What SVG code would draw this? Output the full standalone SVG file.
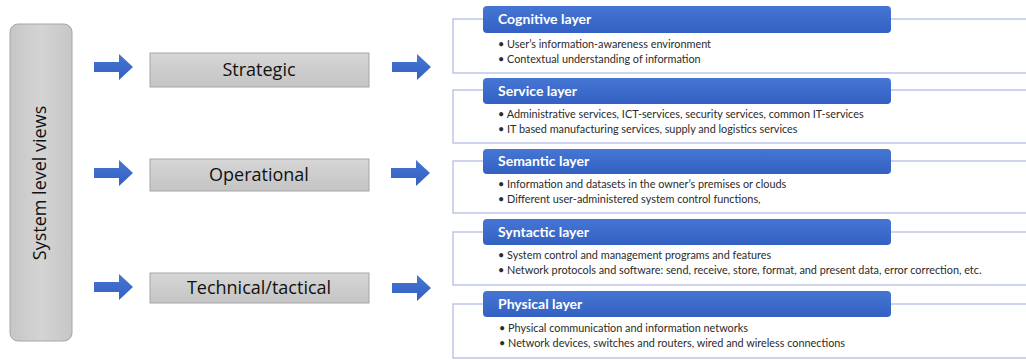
<svg xmlns="http://www.w3.org/2000/svg" width="1026" height="360" viewBox="0 0 1026 360">
<defs>
<linearGradient id="gray" x1="0" y1="0" x2="0" y2="1">
<stop offset="0" stop-color="#d6d6d6"/><stop offset="1" stop-color="#c4c4c4"/>
</linearGradient>
<linearGradient id="grayv" x1="0" y1="0" x2="1" y2="0">
<stop offset="0" stop-color="#c6c6c6"/><stop offset="0.5" stop-color="#d4d4d4"/><stop offset="1" stop-color="#c6c6c6"/>
</linearGradient>
<linearGradient id="blue" x1="0" y1="0" x2="0" y2="1">
<stop offset="0" stop-color="#4676d4"/><stop offset="1" stop-color="#3360c2"/>
</linearGradient>
<path id="arr" d="M0,-5 H25 V-13 L39,0 L25,13 V5 H0 Z"/>
</defs>
<style>
.view rect{fill:url(#gray);stroke:#a6a6a6;stroke-width:1}
.view text{font-family:"Open Sans","Liberation Sans",sans-serif;font-size:18px;fill:#111;text-anchor:middle}
.arrow use{fill:url(#blue)}
.box{fill:#fff;stroke:#b4bde6;stroke-width:1.3}
.hdr{fill:url(#blue)}
.ht{font-family:Lato,"Liberation Sans",sans-serif;font-weight:bold;font-size:14px;fill:#fff}
.bt{font-family:Lato,"Liberation Sans",sans-serif;font-size:10.85px;fill:#2b2b2b}
</style>
<rect width="1026" height="360" fill="#fff"/>

<g id="system-level-views" class="view">
<rect x="10" y="24" width="62" height="317" rx="8" style="fill:url(#grayv)"/>
<text transform="translate(46,183) rotate(-90)">System level views</text>
</g>

<g id="connectors" class="arrow">
<use href="#arr" x="94" y="67"/>
<use href="#arr" x="94" y="173"/>
<use href="#arr" x="94" y="287"/>
<use href="#arr" x="392" y="67"/>
<use href="#arr" x="391" y="173"/>
<use href="#arr" x="392" y="288"/>
</g>

<g id="strategic" class="view">
<rect x="150" y="53" width="219" height="34"/>
<text x="259" y="76">Strategic</text>
</g>
<g id="operational" class="view">
<rect x="150" y="159" width="219" height="32"/>
<text x="259" y="181">Operational</text>
</g>
<g id="technical" class="view">
<rect x="150" y="273" width="219" height="30"/>
<text x="259" y="294">Technical/tactical</text>
</g>

<g id="cognitive-layer">
<rect class="box" x="453" y="19" width="580" height="54"/>
<rect class="hdr" x="483" y="6" width="408" height="27" rx="4"/>
<text class="ht" x="498" y="24">Cognitive layer</text>
<text class="bt" x="498" y="48">• User’s information-awareness environment</text>
<text class="bt" x="498" y="63">• Contextual understanding of information</text>
</g>

<g id="service-layer">
<rect class="box" x="453" y="90" width="580" height="53"/>
<rect class="hdr" x="483" y="78" width="408" height="26" rx="4"/>
<text class="ht" x="498" y="96">Service layer</text>
<text class="bt" x="498" y="118">• Administrative services, ICT-services, security services, common IT-services</text>
<text class="bt" x="498" y="133">• IT based manufacturing services, supply and logistics services</text>
</g>

<g id="semantic-layer">
<rect class="box" x="453" y="161" width="580" height="52"/>
<rect class="hdr" x="483" y="149" width="408" height="25" rx="4"/>
<text class="ht" x="498" y="166">Semantic layer</text>
<text class="bt" x="498" y="188">• Information and datasets in the owner’s premises or clouds</text>
<text class="bt" x="498" y="203">• Different user-administered system control functions,</text>
</g>

<g id="syntactic-layer">
<rect class="box" x="453" y="232" width="580" height="53"/>
<rect class="hdr" x="483" y="219" width="408" height="26" rx="4"/>
<text class="ht" x="498" y="237">Syntactic layer</text>
<text class="bt" x="498" y="259">• System control and management programs and features</text>
<text class="bt" x="498" y="274">• Network protocols and software: send, receive, store, format, and present data, error correction, etc.</text>
</g>

<g id="physical-layer">
<rect class="box" x="453" y="304" width="580" height="54"/>
<rect class="hdr" x="483" y="291" width="408" height="26" rx="4"/>
<text class="ht" x="498" y="309">Physical layer</text>
<text class="bt" x="499" y="332">•  Physical communication and information networks</text>
<text class="bt" x="499" y="347">•  Network devices, switches and routers, wired and wireless connections</text>
</g>
</svg>
